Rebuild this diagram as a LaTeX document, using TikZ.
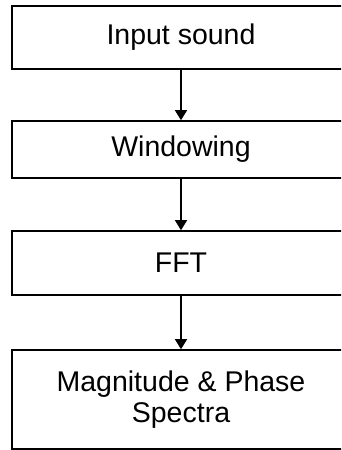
\documentclass[tikz,border=0pt]{standalone}
\usepackage{fontspec}
\setmainfont{Liberation Sans}
\usetikzlibrary{arrows.meta}
\begin{document}
\begin{tikzpicture}[x=1pt,y=1pt,
  stagebox/.style={draw=black, line width=1.6pt, fill=white, inner sep=0pt,
    minimum width=338pt, align=center,
    font=\fontsize{28.5}{31}\selectfont},
  flow/.style={line width=1.5pt, -{Triangle[width=12pt,length=10pt]}}]
  \useasboundingbox (0,0) rectangle (341,-450);
  \clip (0,0) rectangle (341,-450);
  \fill[white] (0,0) rectangle (341,-450);
  % processing stages, top to bottom
  \node[stagebox, minimum height=63pt] (input)  at (181,-37.5) {Input sound};
  \node[stagebox, minimum height=57pt] (window) at (181,-149.5) {Windowing};
  \node[stagebox, minimum height=64pt] (fft)    at (181,-263) {FFT};
  \node[stagebox, minimum height=99pt] (spec)   at (181,-399.5) {Magnitude \& Phase\\Spectra};
  % connectors
  \draw[flow] (input.south) -- (window.north);
  \draw[flow] (window.south) -- (fft.north);
  \draw[flow] (fft.south) -- (spec.north);
\end{tikzpicture}
\end{document}
